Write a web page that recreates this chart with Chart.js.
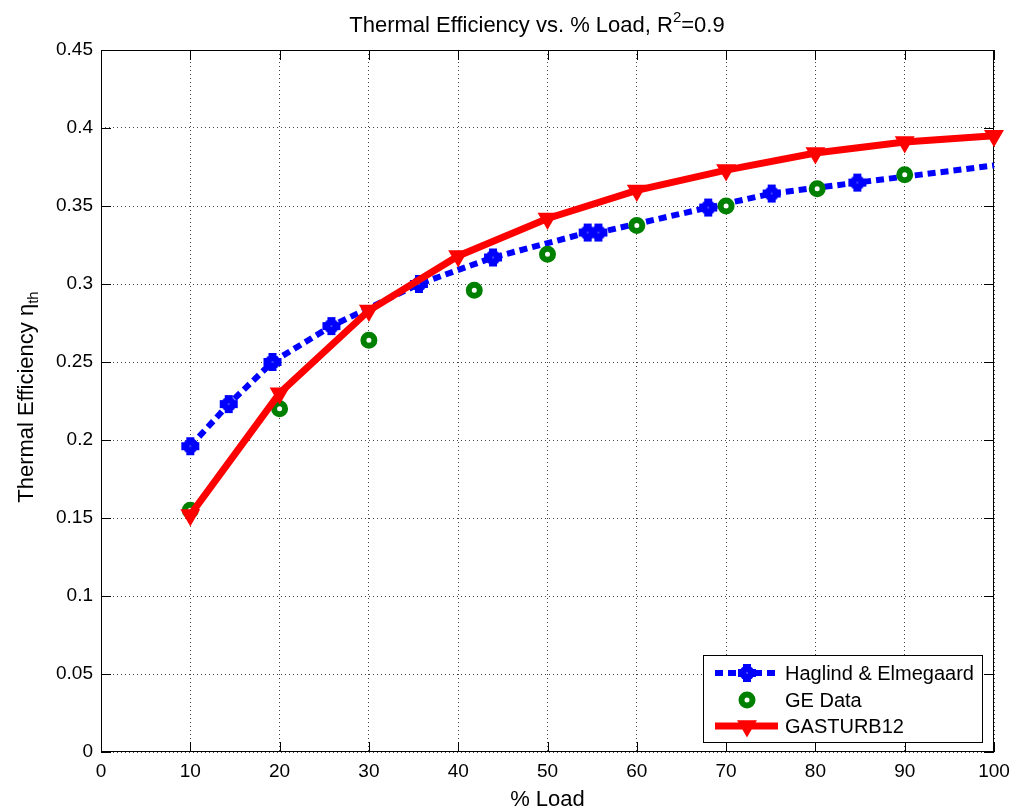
<!DOCTYPE html>
<html>
<head>
<meta charset="utf-8">
<script src="https://cdn.jsdelivr.net/npm/chart.js@4"></script>
<style>
  html, body { margin: 0; padding: 0; background: #fff; }
  #wrap { width: 1011px; height: 810px; position: relative; }
</style>
</head>
<body>
<div id="wrap"><canvas id="effChart" width="1011" height="810"></canvas></div>
<script>
/* Thermal efficiency vs. part load — three sources on one axes */
const FONT = '"Liberation Sans", Arial, Helvetica, sans-serif';

// Haglind & Elmegaard correlation (last point is the curve end, no marker)
const haglindLoad = [10, 14.3, 19.2, 25.8, 35.6, 43.9, 54.5, 55.7, 68.0, 75.1, 84.7, 100];
const haglindEff  = [0.196, 0.223, 0.250, 0.273, 0.300, 0.317, 0.333, 0.333, 0.349, 0.358, 0.365, 0.376];

// GE published data
const geLoad = [10, 20, 30, 41.8, 50, 60, 70, 80.2, 90];
const geEff  = [0.155, 0.220, 0.264, 0.296, 0.319, 0.3375, 0.350, 0.361, 0.370];

// GASTURB12 off-design runs
const gasLoad = [10, 20, 30, 40, 50, 60, 70, 80, 90, 100];
const gasEff  = [0.152, 0.230, 0.283, 0.318, 0.342, 0.360, 0.373, 0.384, 0.391, 0.395];

const xTicks = [0, 10, 20, 30, 40, 50, 60, 70, 80, 90, 100];
const yTicks = [0, 0.05, 0.1, 0.15, 0.2, 0.25, 0.3, 0.35, 0.4, 0.45];

const BLUE = '#0000ff', GREEN = '#008000', RED = '#ff0000';

const toPts = (xs, ys) => xs.map((x, i) => ({ x: x, y: ys[i] }));

// fat rounded plus used for the Haglind markers
function blobMarker() {
    const c = document.createElement('canvas');
    c.width = 20; c.height = 20;
    const g = c.getContext('2d');
    g.fillStyle = BLUE;
    g.fillRect(1, 6, 18, 8);
    g.fillRect(6, 1, 8, 18);
    g.beginPath(); g.arc(10, 10, 7.5, 0, Math.PI * 2); g.fill();
    g.fillStyle = '#fff';
    g.fillRect(9.5, 9.5, 1, 1);
    return c;
}
const blob = blobMarker();

function drawTriangleDown(ctx, x, y, r) {
    ctx.beginPath();
    ctx.moveTo(x, y + r);
    ctx.lineTo(x - r * 0.866, y - r * 0.5);
    ctx.lineTo(x + r * 0.866, y - r * 0.5);
    ctx.closePath();
    ctx.fill();
    ctx.stroke();
}

const framePlugin = {
    id: 'frame',
    beforeDatasetsDraw(chart) {
        const { ctx, chartArea: a, scales } = chart;
        ctx.save();
        ctx.strokeStyle = '#000';
        ctx.lineWidth = 1;
        ctx.strokeRect(a.left + 0.5, a.top + 0.5, a.right - a.left - 1, a.bottom - a.top - 1);
        // inward tick marks on all four sides
        ctx.beginPath();
        xTicks.forEach(v => {
            const px = Math.round(scales.x.getPixelForValue(v)) + 0.5;
            ctx.moveTo(px, a.bottom); ctx.lineTo(px, a.bottom - 10);
            ctx.moveTo(px, a.top); ctx.lineTo(px, a.top + 10);
        });
        yTicks.forEach(v => {
            const py = Math.round(scales.y.getPixelForValue(v)) + 0.5;
            ctx.moveTo(a.left, py); ctx.lineTo(a.left + 10, py);
            ctx.moveTo(a.right, py); ctx.lineTo(a.right - 10, py);
        });
        ctx.stroke();
        ctx.restore();
    },
    afterDraw(chart) {
        const { ctx, chartArea: a } = chart;
        ctx.save();
        ctx.fillStyle = '#000';

        // title with superscript
        ctx.textBaseline = 'alphabetic';
        const t1 = 'Thermal Efficiency vs. % Load, R', t3 = '=0.9';
        ctx.font = '22px ' + FONT;
        const w1 = ctx.measureText(t1).width, w3 = ctx.measureText(t3).width;
        ctx.font = '15px ' + FONT;
        const w2 = ctx.measureText('2').width;
        let tx = 537 - (w1 + w2 + w3) / 2;
        ctx.font = '22px ' + FONT;
        ctx.fillText(t1, tx, 32);
        ctx.font = '15px ' + FONT;
        ctx.fillText('2', tx + w1, 22);
        ctx.font = '22px ' + FONT;
        ctx.fillText(t3, tx + w1 + w2, 32);

        // x axis title
        ctx.textAlign = 'center';
        ctx.fillText('% Load', (a.left + a.right) / 2, 806);

        // y axis title, rotated, with subscript
        ctx.save();
        ctx.translate(33, (a.top + a.bottom) / 2 - 4);
        ctx.rotate(-Math.PI / 2);
        ctx.textAlign = 'left';
        const y1 = 'Thermal Efficiency \u03b7';
        ctx.font = '22px ' + FONT;
        const wy1 = ctx.measureText(y1).width;
        ctx.font = '15px ' + FONT;
        const wy2 = ctx.measureText('th').width;
        const sx = -(wy1 + wy2) / 2;
        ctx.font = '22px ' + FONT;
        ctx.fillText(y1, sx, 0);
        ctx.font = '15px ' + FONT;
        ctx.fillText('th', sx + wy1, 5);
        ctx.restore();

        // legend box
        const L = 703, T = 655, R = 983, B = 743;
        ctx.fillStyle = '#fff';
        ctx.fillRect(L, T, R - L, B - T);
        ctx.strokeStyle = '#000';
        ctx.lineWidth = 1;
        ctx.strokeRect(L + 0.5, T + 0.5, R - L - 1, B - T - 1);

        const rows = [673, 700, 726];
        const x0 = 715, x1 = 778, xm = 747;

        ctx.lineCap = 'butt';
        ctx.strokeStyle = BLUE; ctx.lineWidth = 6;
        ctx.setLineDash([8, 5]);
        ctx.beginPath(); ctx.moveTo(x0, rows[0]); ctx.lineTo(x1, rows[0]); ctx.stroke();
        ctx.setLineDash([]);
        ctx.drawImage(blob, xm - 10, rows[0] - 10);

        ctx.strokeStyle = GREEN; ctx.lineWidth = 6; ctx.fillStyle = '#fff';
        ctx.beginPath(); ctx.arc(xm, rows[1], 5.5, 0, Math.PI * 2); ctx.fill(); ctx.stroke();

        ctx.strokeStyle = RED; ctx.lineWidth = 7;
        ctx.beginPath(); ctx.moveTo(x0, rows[2]); ctx.lineTo(x1, rows[2]); ctx.stroke();
        ctx.fillStyle = RED; ctx.lineWidth = 2;
        drawTriangleDown(ctx, xm, rows[2], 9.5);

        ctx.fillStyle = '#000';
        ctx.font = '20px ' + FONT;
        ctx.textAlign = 'left';
        ctx.textBaseline = 'middle';
        ctx.fillText('Haglind & Elmegaard', 785, rows[0] + 1);
        ctx.fillText('GE Data', 785, rows[1] + 1);
        ctx.fillText('GASTURB12', 785, rows[2] + 1);
        ctx.restore();
    }
};

new Chart(document.getElementById('effChart').getContext('2d'), {
    type: 'line',
    data: {
        datasets: [
            {
                label: 'Haglind & Elmegaard',
                data: toPts(haglindLoad, haglindEff),
                borderColor: BLUE, borderWidth: 6, borderDash: [8, 5],
                pointStyle: blob,
                pointRadius: haglindLoad.map((v, i) => i === haglindLoad.length - 1 ? 0 : 10),
                tension: 0, clip: false, order: 3
            },
            {
                label: 'GE Data',
                data: toPts(geLoad, geEff),
                showLine: false,
                pointStyle: 'circle', pointRadius: 5.5, pointBorderWidth: 6,
                pointBorderColor: GREEN, pointBackgroundColor: '#fff',
                clip: false, order: 2
            },
            {
                label: 'GASTURB12',
                data: toPts(gasLoad, gasEff),
                borderColor: RED, borderWidth: 7,
                pointStyle: 'triangle', rotation: 180, pointRadius: 9.5,
                pointBackgroundColor: RED, pointBorderColor: RED, pointBorderWidth: 2,
                tension: 0, clip: false, order: 1
            }
        ]
    },
    options: {
        responsive: false,
        animation: false,
        events: [],
        layout: { padding: { top: 50, right: 17, left: 0, bottom: 0 } },
        plugins: { legend: { display: false }, tooltip: { enabled: false }, title: { display: false } },
        scales: {
            x: {
                type: 'linear', min: 0, max: 100,
                afterFit: s => { s.height = 58; s.paddingLeft = 0; s.paddingRight = 0; },
                afterBuildTicks: s => { s.ticks = xTicks.map(v => ({ value: v })); },
                ticks: { color: '#000', font: { family: FONT, size: 19 }, padding: 8, maxRotation: 0 },
                grid: { color: '#444', lineWidth: 1, drawTicks: false },
                border: { display: false, dash: [1, 3] }
            },
            y: {
                type: 'linear', min: 0, max: 0.45,
                afterFit: s => { s.width = 101; s.paddingTop = 0; s.paddingBottom = 0; },
                afterBuildTicks: s => { s.ticks = yTicks.map(v => ({ value: v })); },
                ticks: {
                    color: '#000', font: { family: FONT, size: 19 }, padding: 8,
                    callback: v => String(+v.toFixed(2))
                },
                grid: { color: '#444', lineWidth: 1, drawTicks: false },
                border: { display: false, dash: [1, 3] }
            }
        }
    },
    plugins: [framePlugin]
});
</script>
</body>
</html>
